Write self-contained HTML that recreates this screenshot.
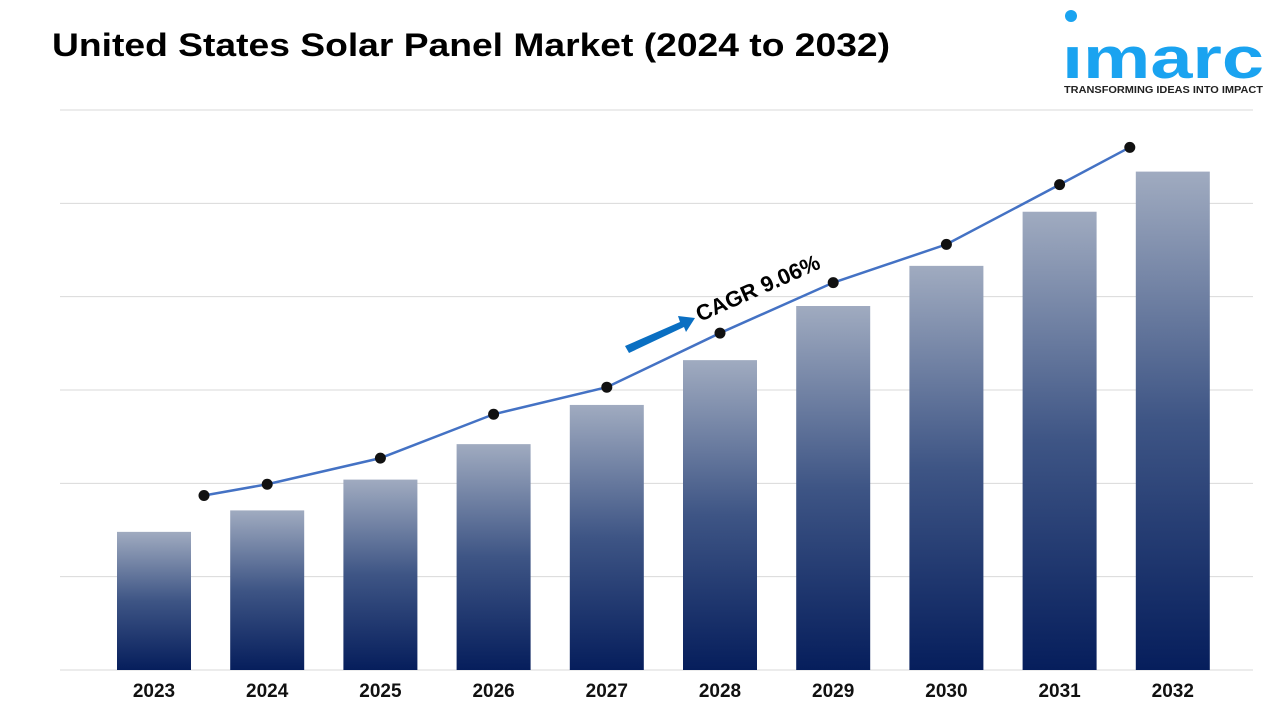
<!DOCTYPE html>
<html><head><meta charset="utf-8"><style>
body{margin:0;width:1280px;height:720px;background:#fff;overflow:hidden;font-family:"Liberation Sans",sans-serif}
</style></head><body>
<svg width="1280" height="720">
<defs><linearGradient id="g" x1="0" y1="0" x2="0" y2="1"><stop offset="0" stop-color="#a0abc0"/><stop offset="0.5" stop-color="#3e5585"/><stop offset="1" stop-color="#061e5c"/></linearGradient></defs>
<text x="52" y="56" font-size="32" font-weight="bold" fill="#000" textLength="838" lengthAdjust="spacingAndGlyphs">United States Solar Panel Market (2024 to 2032)</text>
<g>
<circle cx="1071" cy="16" r="6" fill="#1aa3f0"/>
<text x="1062" y="78" font-size="58" font-weight="bold" fill="#1aa3f0" textLength="202" lengthAdjust="spacingAndGlyphs">ımarc</text>
<text x="1064" y="93" font-size="10.5" font-weight="bold" fill="#222" textLength="199" lengthAdjust="spacingAndGlyphs">TRANSFORMING IDEAS INTO IMPACT</text>
</g>
<g id="grid"></g><g id="bars"></g><g id="line"></g><g id="labels"></g>
<g>
<polygon points="625,346 680,322 678,316 695,318 686,332 684,327 629,353" fill="#0a6fc2"/>
<text x="0" y="0" font-size="22" font-weight="bold" fill="#000" transform="translate(700,322) rotate(-24)">CAGR 9.06%</text>
</g>
</svg>
<script>
const categories=["2023","2024","2025","2026","2027","2028","2029","2030","2031","2032"];
const barValues=[148,171,204,242,284,332,390,433,491,534];
const lineValues=[187,199,227,274,303,361,415,456,520,560];
const gridTicks=[0,100,200,300,400,500,600];
const NS="http://www.w3.org/2000/svg";
const y0=670,yTop=110,vmax=600;
const y=v=>y0-(v/vmax)*(y0-yTop);
const x=i=>154+i*113.2;
function mk(t,a,p){const e=document.createElementNS(NS,t);for(const k in a)e.setAttribute(k,a[k]);p.appendChild(e);return e;}
const G=document.getElementById('grid'),B=document.getElementById('bars'),L=document.getElementById('line'),T=document.getElementById('labels');
gridTicks.forEach(v=>{const e=mk('line',{x1:60,x2:1253,y1:y(v),y2:y(v),stroke:'#d9d9d9','stroke-width':1},G);

});
categories.forEach((c,i)=>{
const r=mk('rect',{x:x(i)-37,y:y(barValues[i]),width:74,height:y0-y(barValues[i]),fill:'url(#g)'},B);


const t=mk('text',{x:x(i),y:697,'text-anchor':'middle','font-size':19,'font-weight':'bold',fill:'#111'},T);t.textContent=c;


});
const n=categories.length;
const lx=i=>x(i)+(i===0?50:i===n-1?-43:0);
const pts=lineValues.map((v,i)=>lx(i)+','+y(v)).join(' ');
const pl=mk('polyline',{points:pts,fill:'none',stroke:'#4472c4','stroke-width':2.5},L);


lineValues.forEach((v,i)=>{const c=mk('circle',{cx:lx(i),cy:y(v),r:5.5,fill:'#111'},L);

});
</script>
</body></html>
